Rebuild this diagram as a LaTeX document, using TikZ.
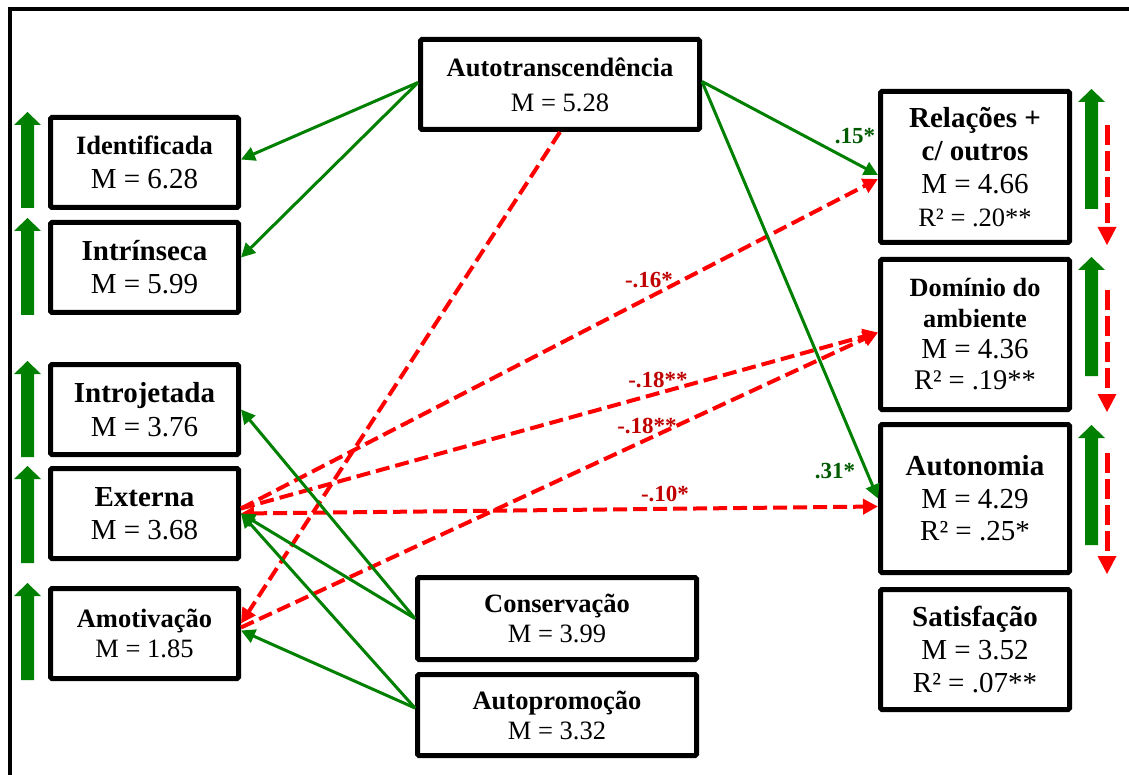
\documentclass[tikz,border=0pt]{standalone}
\usepackage{fontspec}
\setmainfont{Liberation Serif}
\usetikzlibrary{arrows.meta,calc}
\definecolor{grn}{RGB}{0,128,0}
\definecolor{dgrn}{RGB}{0,90,0}
\definecolor{rd}{RGB}{255,0,0}
\definecolor{drd}{RGB}{192,0,0}
\newcommand{\bsz}[2]{{\fontsize{#1}{#1}\selectfont\bfseries #2}}
\newcommand{\nsz}[2]{{\fontsize{#1}{#1}\selectfont #2}}
\newcommand{\garrow}[3]{%
  \fill[grn] (#1-6.5,#3) -- (#1-6.5,#2+13) -- (#1-13.5,#2+13) -- (#1,#2) -- (#1+13.5,#2+13) -- (#1+6.5,#2+13) -- (#1+6.5,#3) -- cycle;}
\newcommand{\rarrow}[3]{%
  \draw[rd, line width=5pt, dash pattern=on 20pt off 6pt] (#1,#2) -- (#1,#3-18);
  \fill[rd] (#1-9.5,#3-18) -- (#1+9.5,#3-18) -- (#1,#3) -- cycle;}
\begin{document}
\begin{tikzpicture}[x=1pt,y=-1pt,
  box/.style={draw=black, line width=5pt, rounded corners=1.5pt, fill=white, align=center, inner sep=0pt},
  gline/.style={draw=grn, line width=3pt, -{Triangle[length=14pt,width=14pt]}},
  rline/.style={draw=rd, line width=4pt, dash pattern=on 14pt off 6pt, -{Triangle[length=15pt,width=15pt]}},
  glab/.style={text=dgrn, font=\fontsize{23}{23}\selectfont\bfseries, inner sep=0pt},
  rlab/.style={text=drd, font=\fontsize{23}{23}\selectfont\bfseries, inner sep=0pt}
]
\useasboundingbox (0,0) rectangle (1129,775);
\fill[white] (0,0) rectangle (1129,775);
% frame
\draw[line width=4pt] (9.5,800) -- (9.5,9) -- (1150,9);

% boxes
\node[box, minimum width=279pt, minimum height=90pt, font=\fontsize{26.5}{35}\selectfont] (auto) at (560,84.5) {\textbf{Autotranscendência}\\M = 5.28};
\node[box, minimum width=188pt, minimum height=90pt, font=\fontsize{29}{34}\selectfont] (ident) at (144.5,162.5) {\bsz{26.5}{Identificada}\\M = 6.28};
\node[box, minimum width=188pt, minimum height=90pt, font=\fontsize{29}{33}\selectfont] (intr) at (144.5,267.5) {\textbf{Intrínseca}\\M = 5.99};
\node[box, minimum width=188pt, minimum height=90pt, font=\fontsize{29}{34}\selectfont] (introj) at (144.5,409.5) {\textbf{Introjetada}\\M = 3.76};
\node[box, minimum width=188pt, minimum height=90pt, font=\fontsize{29}{33}\selectfont] (ext) at (144.5,513.5) {\textbf{Externa}\\M = 3.68};
\node[box, minimum width=188pt, minimum height=90pt, font=\fontsize{26.5}{30}\selectfont] (amot) at (144.5,633.5) {\textbf{Amotivação}\\M = 1.85};
\node[box, minimum width=279pt, minimum height=82pt, font=\fontsize{26.5}{30}\selectfont] (cons) at (557,618.5) {\textbf{Conservação}\\M = 3.99};
\node[box, minimum width=279pt, minimum height=81pt, font=\fontsize{26.5}{30}\selectfont] (autop) at (557,715) {\textbf{Autopromoção}\\M = 3.32};
\node[box, minimum width=189pt, minimum height=151pt, font=\fontsize{29}{33}\selectfont] (rel) at (975,167) {\textbf{Relações +}\\\textbf{c/ outros}\\M = 4.66\\\nsz{26.5}{R² = .20**}};
\node[box, minimum width=189pt, minimum height=150pt, font=\fontsize{29}{31}\selectfont] (dom) at (975,334.5) {\bsz{26.3}{Domínio do}\\\bsz{26.3}{ambiente}\\M = 4.36\\\nsz{28.5}{R² = .19**}};
\node[box, minimum width=189pt, minimum height=148pt, font=\fontsize{29}{32.5}\selectfont] (auton) at (975,498.5) {\textbf{Autonomia}\\M = 4.29\\R² = .25*};
\node[box, minimum width=189pt, minimum height=120pt, font=\fontsize{29}{33}\selectfont] (sat) at (975,649.5) {\textbf{Satisfação}\\M = 3.52\\R² = .07**};

% side arrows
\garrow{27.5}{112}{208}
\garrow{27.5}{218}{315}
\garrow{27.5}{361}{457}
\garrow{27.5}{466}{563}
\garrow{27.5}{583}{680}
\garrow{1091.5}{89}{209}
\garrow{1091.5}{257}{376}
\garrow{1091.5}{425}{545}
\rarrow{1107}{125}{245}
\rarrow{1107}{290}{412}
\rarrow{1107}{453}{574}

% red dashed connectors
\draw[rline] (auto.south) -- ($(amot.east)+(0,-10)$);
\draw[rline] ($(ext.east)+(0,-5)$) -- ($(rel.west)+(0,12)$);
\draw[rline] ($(ext.east)+(0,-5)$) -- ($(dom.west)+(0,-2)$);
\draw[rline] ($(amot.east)+(0,-6)$) -- ($(dom.west)+(0,-2)$);
\draw[rline, {Triangle[length=13pt,width=13pt]}-{Triangle[length=15pt,width=15pt]}] (ext.east) -- ($(auton.west)+(0,8)$);

% green connectors
\draw[gline] ($(auto.west)+(0,-2)$) -- ($(ident.east)+(0,-3)$);
\draw[gline] ($(auto.west)+(0,-2)$) -- ($(intr.east)+(0,-10)$);
\draw[gline] ($(auto.east)+(0,-3)$) -- ($(rel.west)+(0,8)$);
\draw[gline] ($(auto.east)+(0,-3)$) -- (auton.west);
\draw[gline] (cons.west) -- (introj.east);
\draw[gline] (cons.west) -- (ext.east);
\draw[gline] ($(autop.west)+(0,-7)$) -- (ext.east);
\draw[gline] ($(autop.west)+(0,-7)$) -- ($(amot.east)+(0,-3)$);

% labels
\node[glab] (l15) at (855,136) {.15*};
\node[glab] (l31) at (835,471) {.31*};
\node[rlab] (l16) at (649,280) {-.16*};
\node[rlab] (l18a) at (658,380) {-.18**};
\node[rlab] (l18b) at (647,426) {-.18**};
\node[rlab] (l10) at (665,494) {-.10*};
\end{tikzpicture}
\end{document}
